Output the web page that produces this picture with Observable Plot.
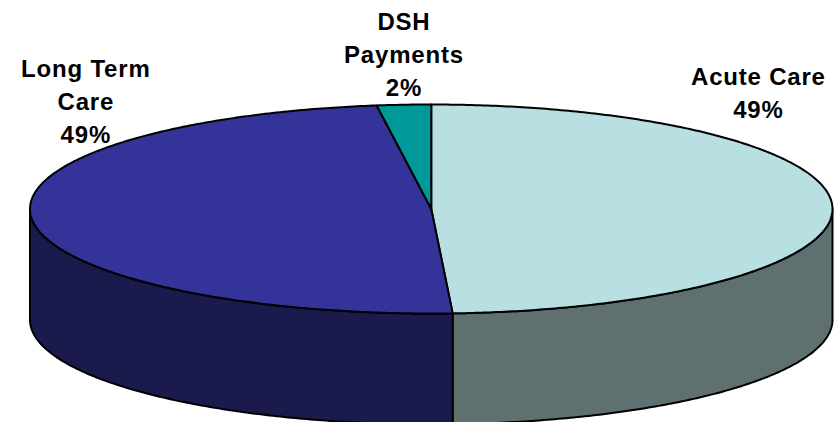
<!DOCTYPE html>
<html>
<head>
<meta charset="utf-8">
<script src="https://cdn.jsdelivr.net/npm/d3@7"></script>
<script src="https://cdn.jsdelivr.net/npm/@observablehq/plot@0.6"></script>
<style>html,body{margin:0;padding:0;background:#fff;overflow:hidden}svg{display:block}</style>
</head>
<body>
<div id="chart"></div>
<script>
const categories = ["Acute Care", "Long Term Care", "DSH Payments"];
const shares = [49.15, 48.68, 2.17];
const labelLines = [["Acute Care", "49%"], ["Long Term", "Care", "49%"], ["DSH", "Payments", "2%"]];
const topColors = ["#b8e0e3", "#333399", "#009999"];
const wallColors = ["#5f7070", "#1a1a4d", "#004d4d"];

const depth = 1.06;
const total = d3.sum(shares);
const sum = d3.cumsum(shares);
const slices = categories.map((name, i) => ({
  name,
  a0: ((i ? sum[i - 1] : 0) / total) * 2 * Math.PI,
  a1: (sum[i] / total) * 2 * Math.PI,
  i
}));
const rim = (a, drop = 0) => ({x: Math.sin(a), y: Math.cos(a) - drop});
const arc = (a0, a1, drop = 0) => {
  const n = Math.max(2, Math.ceil(Math.abs(a1 - a0) / 0.01));
  return d3.range(n + 1).map(k => rim(a0 + (a1 - a0) * k / n, drop));
};
const topPts = slices.flatMap(s => [{x: 0, y: 0}, ...arc(s.a0, s.a1), {x: 0, y: 0}]
  .map(p => ({...p, name: s.name, i: s.i})));
const wallPts = slices.flatMap(s => {
  const a0 = Math.max(s.a0, Math.PI / 2), a1 = Math.min(s.a1, 3 * Math.PI / 2);
  if (a1 <= a0) return [];
  const ring = [...arc(a0, a1), ...arc(a1, a0, depth)];
  return [...ring, ring[0]].map(p => ({...p, name: s.name, i: s.i}));
});
const labelRows = slices.map((s, i) => ({...rim((s.a0 + s.a1) / 2), i, text: labelLines[i].join("\n")}));
const offsets = [[-74, -115], [54, -119], [0, -52]];
const colorOf = arr => d => arr[d.i];

const chart = Plot.plot({
  width: 836,
  height: 422,
  margin: 0,
  axis: null,
  style: {letterSpacing: "0.8px"},
  x: {domain: [-1, 1], range: [29.5, 832]},
  y: {domain: [1, -1], range: [104, 313]},
  marks: [
    Plot.line(wallPts, {x: "x", y: "y", z: "name", fill: colorOf(wallColors), stroke: "#000", strokeWidth: 2, strokeLinejoin: "round", curve: "linear"}),
    Plot.line(topPts, {x: "x", y: "y", z: "name", fill: colorOf(topColors), stroke: "#000", strokeWidth: 2, strokeLinejoin: "round", curve: "linear"}),
    ...labelRows.map((d, i) => Plot.text([d], {
      x: "x", y: "y", text: "text", dx: offsets[i][0], dy: offsets[i][1],
      fontFamily: "Liberation Sans", fontWeight: "bold", fontSize: 24, lineHeight: 1.375, fill: "#000", textAnchor: "middle"
    }))
  ]
});
document.getElementById("chart").append(chart);
</script>
</body>
</html>
